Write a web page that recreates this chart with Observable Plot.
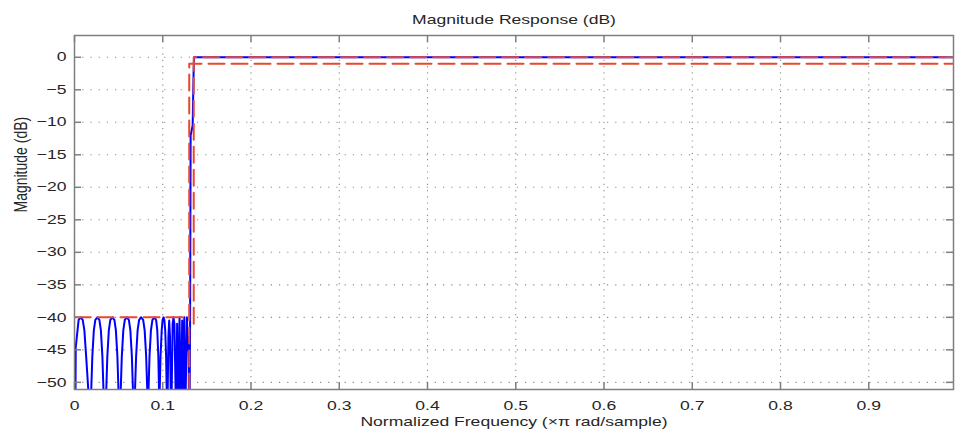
<!DOCTYPE html>
<html><head><meta charset="utf-8">
<script src="https://cdn.jsdelivr.net/npm/d3@7"></script>
<script src="https://cdn.jsdelivr.net/npm/@observablehq/plot@0.6"></script>
<style>html,body{margin:0;padding:0;background:#fff;} svg{display:block}</style>
</head><body><div id="chart"></div>
<script>
const titleText = "Magnitude Response (dB)";
const xLabelText = "Normalized Frequency (\u00d7\u03c0 rad/sample)";
const yLabelText = "Magnitude (dB)";
const xTicks = [0, 0.1, 0.2, 0.3, 0.4, 0.5, 0.6, 0.7, 0.8, 0.9];
const xTickLabels = ["0", "0.1", "0.2", "0.3", "0.4", "0.5", "0.6", "0.7", "0.8", "0.9"];
const yTicks = [0, -5, -10, -15, -20, -25, -30, -35, -40, -45, -50];
const xDomain = [0, 0.996];
const yDomain = [-51.1, 3.35];

// filter magnitude response [normalized frequency, dB]
const response = [
  [0, -80], [0.0014, -44.6], [0.0047, -40.4], [0.0070, -40], [0.0093, -40.4], [0.0112, -42], [0.0132, -46], [0.0158, -51.5], [0.0176, -75],
  [0.0189, -51.5], [0.0202, -46], [0.0219, -42], [0.0236, -40.4], [0.0259, -40], [0.0282, -40.4], [0.0299, -42], [0.0316, -46], [0.0329, -51.5], [0.0346, -75],
  [0.0359, -51.5], [0.0372, -46], [0.0389, -42], [0.0406, -40.4], [0.0429, -40], [0.0452, -40.4], [0.0469, -42], [0.0486, -46], [0.0499, -51.5], [0.0516, -75],
  [0.0523, -51.5], [0.0536, -46], [0.0553, -42], [0.0570, -40.4], [0.0593, -40], [0.0616, -40.4], [0.0633, -42], [0.0650, -46], [0.0663, -51.5], [0.0679, -75],
  [0.0685, -51.5], [0.0698, -46], [0.0715, -42], [0.0732, -40.4], [0.0755, -40], [0.0778, -40.4], [0.0795, -42], [0.0812, -46], [0.0825, -51.5], [0.0831, -75],
  [0.0838, -51.5], [0.0850, -46], [0.0866, -42], [0.0883, -40.4], [0.0906, -40], [0.0925, -40.4], [0.0938, -42], [0.0950, -46], [0.0958, -51.5], [0.0962, -75],
  [0.0965, -51.5], [0.0975, -46], [0.0988, -42], [0.0998, -40.4], [0.1008, -40], [0.1018, -40.4], [0.1028, -42], [0.1038, -46], [0.1045, -51.5], [0.1050, -75],
  [0.1056, -51.5], [0.1064, -43], [0.1073, -40.5], [0.1082, -43], [0.1090, -51.5], [0.1095, -75],
  [0.1101, -51.5], [0.1112, -41], [0.1121, -40], [0.1132, -41], [0.1146, -51.5], [0.1150, -75],
  [0.1154, -51.5], [0.1163, -41], [0.1175, -51.5], [0.1178, -75],
  [0.1182, -51.5], [0.1190, -40], [0.1202, -51.5], [0.1206, -75],
  [0.1210, -51.5], [0.1220, -40.5], [0.1230, -51.5], [0.1233, -75],
  [0.1236, -51.5], [0.1244, -40], [0.1253, -51.5], [0.1256, -75],
  [0.1260, -51.5], [0.1274, -40], [0.1284, -45], [0.1289, -43], [0.1294, -46], [0.1300, -60],
  [0.1305, -51.5], [0.1310, -40], [0.1316, -12], [0.1339, -10.5], [0.1350, -2], [0.1355, 0],
  [0.996, 0]
];

// specification mask lines (red dashed)
const maskStop = [[0, -40], [0.130, -40]];
const maskPassUpper = [[0.1351, -41], [0.1351, 0], [0.996, 0]];
const maskPassLower = [[0.130, -51.1], [0.130, -1], [0.996, -1]];

const W = 957, H = 432;
const mT = 35, mB = 43, mL = 74, mR = 4;
const pxPerX = (W - mL - mR) / (xDomain[1] - xDomain[0]);
const pxPerY = (H - mT - mB) / (yDomain[1] - yDomain[0]);
const tickLen = 7;
const gray = "#7f7f7f";
const red = "#e8482c";
const textColor = "#262626";

const chart = Plot.plot({
  width: W, height: H,
  marginTop: mT, marginBottom: mB, marginLeft: mL, marginRight: mR,
  style: {fontFamily: "'Liberation Sans', Arial, sans-serif", fontSize: "13px", color: textColor, background: "#fff"},
  x: {domain: xDomain, ticks: xTicks},
  y: {domain: yDomain, ticks: yTicks},
  marks: [
    Plot.gridX(xTicks, {stroke: "#8c8c8c", strokeOpacity: 1, strokeWidth: 1.1, strokeDasharray: "1.2,5"}),
    Plot.gridY(yTicks, {stroke: "#8c8c8c", strokeOpacity: 1, strokeWidth: 1.1, strokeDasharray: "1.2,7"}),
    Plot.axisX(xTicks, {tickSize: 0, tickPadding: 11, label: null, tickFormat: (d, i) => xTickLabels[i], fill: textColor}),
    Plot.axisY(yTicks, {tickSize: 0, tickPadding: 8, label: null, fill: textColor}),
    Plot.line(response, {x: d => d[0], y: d => d[1], stroke: "#0000ff", strokeWidth: 2, clip: true}),
    Plot.line(maskStop, {x: d => d[0], y: d => d[1], stroke: red, strokeWidth: 2, strokeDasharray: "16,7", clip: true}),
    Plot.line(maskPassUpper, {x: d => d[0], y: d => d[1], stroke: red, strokeWidth: 2, strokeDasharray: "16,7", clip: true}),
    Plot.line(maskPassLower, {x: d => d[0], y: d => d[1], stroke: red, strokeWidth: 2, strokeDasharray: "16,7", clip: true}),
    Plot.frame({stroke: gray, strokeWidth: 1.5}),
    // inward tick marks on all four sides
    Plot.ruleX(xTicks, {x: d => d, y1: yDomain[0], y2: yDomain[0] + tickLen / pxPerY, stroke: gray, strokeWidth: 1.5}),
    Plot.ruleX(xTicks, {x: d => d, y1: yDomain[1], y2: yDomain[1] - tickLen / pxPerY, stroke: gray, strokeWidth: 1.5}),
    Plot.ruleY(yTicks, {y: d => d, x1: xDomain[0], x2: xDomain[0] + tickLen / pxPerX, stroke: gray, strokeWidth: 1.5}),
    Plot.ruleY(yTicks, {y: d => d, x1: xDomain[1], x2: xDomain[1] - tickLen / pxPerX, stroke: gray, strokeWidth: 1.5}),
    Plot.text([titleText], {frameAnchor: "top", dy: -16, lineAnchor: "middle", fill: textColor, fontSize: 13}),
    Plot.text([xLabelText], {frameAnchor: "bottom", dy: 32, lineAnchor: "middle", fill: textColor, fontSize: 13}),
    Plot.text([yLabelText], {frameAnchor: "left", dx: -54, rotate: -90, lineAnchor: "middle", fill: textColor, fontSize: 14})
  ]
});
document.getElementById("chart").append(chart);

// the reference figure is horizontally stretched: widen text glyphs horizontally
const stretch = 1.35;
chart.querySelectorAll("text").forEach(t => {
  const tr = t.getAttribute("transform") || "";
  if (tr.includes("rotate")) {
    t.setAttribute("transform", tr.replace("rotate", `scale(${stretch},1) rotate`));
    return;
  }
  const spans = t.querySelectorAll("tspan");
  const targets = spans.length ? Array.from(spans) : [t];
  targets.forEach(el => {
    const len = el.getComputedTextLength();
    if (len > 0) {
      el.setAttribute("textLength", (len * stretch).toFixed(2));
      el.setAttribute("lengthAdjust", "spacingAndGlyphs");
    }
  });
});
</script></body></html>
